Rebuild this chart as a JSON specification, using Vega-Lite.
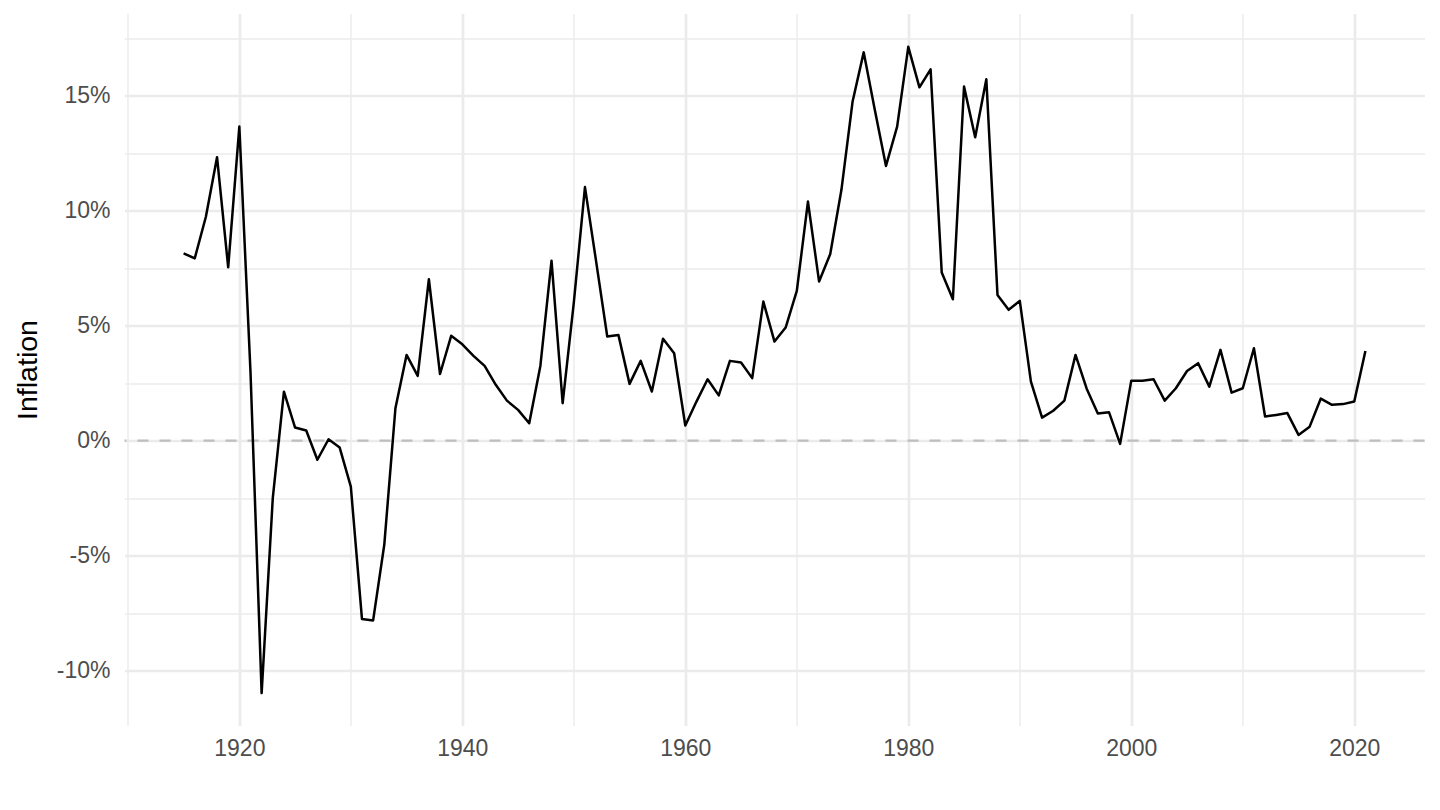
{
  "$schema": "https://vega.github.io/schema/vega-lite/v6.json",
  "width": 1300,
  "height": 712,
  "autosize": {"type": "none"},
  "padding": {"left": 124.5, "top": 13.5, "right": 15.5, "bottom": 84.5},
  "background": "white",
  "config": {"view": {"stroke": null}, "font": "Liberation Sans"},
  "datasets": {
    "zero": [{"inflation": 0}],
    "infl": [
      {"year": 1915, "inflation": 8.15}, {"year": 1916, "inflation": 7.93}, {"year": 1917, "inflation": 9.74},
      {"year": 1918, "inflation": 12.33}, {"year": 1919, "inflation": 7.54}, {"year": 1920, "inflation": 13.66},
      {"year": 1921, "inflation": 3.0}, {"year": 1922, "inflation": -10.98}, {"year": 1923, "inflation": -2.5},
      {"year": 1924, "inflation": 2.13}, {"year": 1925, "inflation": 0.57}, {"year": 1926, "inflation": 0.44},
      {"year": 1927, "inflation": -0.83}, {"year": 1928, "inflation": 0.06}, {"year": 1929, "inflation": -0.3},
      {"year": 1930, "inflation": -2.0}, {"year": 1931, "inflation": -7.76}, {"year": 1932, "inflation": -7.82},
      {"year": 1933, "inflation": -4.53}, {"year": 1934, "inflation": 1.41}, {"year": 1935, "inflation": 3.73},
      {"year": 1936, "inflation": 2.82}, {"year": 1937, "inflation": 7.02}, {"year": 1938, "inflation": 2.9},
      {"year": 1939, "inflation": 4.56}, {"year": 1940, "inflation": 4.19}, {"year": 1941, "inflation": 3.69},
      {"year": 1942, "inflation": 3.25}, {"year": 1943, "inflation": 2.43}, {"year": 1944, "inflation": 1.74},
      {"year": 1945, "inflation": 1.34}, {"year": 1946, "inflation": 0.76}, {"year": 1947, "inflation": 3.25},
      {"year": 1948, "inflation": 7.83}, {"year": 1949, "inflation": 1.63}, {"year": 1950, "inflation": 6.0},
      {"year": 1951, "inflation": 11.03}, {"year": 1952, "inflation": 7.8}, {"year": 1953, "inflation": 4.53},
      {"year": 1954, "inflation": 4.6}, {"year": 1955, "inflation": 2.47}, {"year": 1956, "inflation": 3.47},
      {"year": 1957, "inflation": 2.14}, {"year": 1958, "inflation": 4.43}, {"year": 1959, "inflation": 3.8},
      {"year": 1960, "inflation": 0.66}, {"year": 1961, "inflation": 1.7}, {"year": 1962, "inflation": 2.67},
      {"year": 1963, "inflation": 1.97}, {"year": 1964, "inflation": 3.47}, {"year": 1965, "inflation": 3.4},
      {"year": 1966, "inflation": 2.72}, {"year": 1967, "inflation": 6.05}, {"year": 1968, "inflation": 4.31},
      {"year": 1969, "inflation": 4.92}, {"year": 1970, "inflation": 6.51}, {"year": 1971, "inflation": 10.4},
      {"year": 1972, "inflation": 6.92}, {"year": 1973, "inflation": 8.12}, {"year": 1974, "inflation": 10.9},
      {"year": 1975, "inflation": 14.74}, {"year": 1976, "inflation": 16.89}, {"year": 1977, "inflation": 14.38},
      {"year": 1978, "inflation": 11.95}, {"year": 1979, "inflation": 13.66}, {"year": 1980, "inflation": 17.13},
      {"year": 1981, "inflation": 15.37}, {"year": 1982, "inflation": 16.15}, {"year": 1983, "inflation": 7.31},
      {"year": 1984, "inflation": 6.15}, {"year": 1985, "inflation": 15.4}, {"year": 1986, "inflation": 13.2},
      {"year": 1987, "inflation": 15.72}, {"year": 1988, "inflation": 6.34}, {"year": 1989, "inflation": 5.69},
      {"year": 1990, "inflation": 6.08}, {"year": 1991, "inflation": 2.57}, {"year": 1992, "inflation": 1.0},
      {"year": 1993, "inflation": 1.3}, {"year": 1994, "inflation": 1.74}, {"year": 1995, "inflation": 3.73},
      {"year": 1996, "inflation": 2.26}, {"year": 1997, "inflation": 1.18}, {"year": 1998, "inflation": 1.24},
      {"year": 1999, "inflation": -0.14}, {"year": 2000, "inflation": 2.61}, {"year": 2001, "inflation": 2.61},
      {"year": 2002, "inflation": 2.67}, {"year": 2003, "inflation": 1.74}, {"year": 2004, "inflation": 2.28},
      {"year": 2005, "inflation": 3.03}, {"year": 2006, "inflation": 3.37}, {"year": 2007, "inflation": 2.35},
      {"year": 2008, "inflation": 3.95}, {"year": 2009, "inflation": 2.09}, {"year": 2010, "inflation": 2.28},
      {"year": 2011, "inflation": 4.02}, {"year": 2012, "inflation": 1.05}, {"year": 2013, "inflation": 1.12},
      {"year": 2014, "inflation": 1.2}, {"year": 2015, "inflation": 0.25}, {"year": 2016, "inflation": 0.61},
      {"year": 2017, "inflation": 1.83}, {"year": 2018, "inflation": 1.56}, {"year": 2019, "inflation": 1.59},
      {"year": 2020, "inflation": 1.7}, {"year": 2021, "inflation": 3.9}
    ]
  },
  "layer": [
    {
      "data": {"name": "zero"},
      "mark": {"type": "rule", "color": "#BEBEBE", "strokeWidth": 2.2, "strokeDash": [11, 11]},
      "encoding": {
        "y": {"field": "inflation", "type": "quantitative", "scale": {"domain": [-12.39, 18.58], "nice": false, "zero": false}}
      }
    },
    {
      "data": {"name": "infl"},
      "mark": {"type": "line", "color": "#000000", "strokeWidth": 2.5, "strokeJoin": "round", "strokeCap": "butt"},
      "encoding": {
        "x": {
          "field": "year", "type": "quantitative",
          "scale": {"domain": [1909.7, 2026.3], "nice": false, "zero": false},
          "axis": {
            "values": [1910, 1920, 1930, 1940, 1950, 1960, 1970, 1980, 1990, 2000, 2010, 2020],
            "format": "d",
            "labelExpr": "datum.value % 20 === 0 ? datum.label : ''",
            "grid": true, "gridColor": "#EBEBEB",
            "gridWidth": {"condition": {"test": "datum.value % 20 === 0", "value": 2.7}, "value": 1.4},
            "domain": false, "ticks": false, "tickSize": 0,
            "labelFont": "Liberation Sans", "labelFontSize": 23, "labelColor": "#4D4D4D",
            "labelPadding": 12, "labelFlush": false, "labelOverlap": false,
            "title": null
          }
        },
        "y": {
          "field": "inflation", "type": "quantitative",
          "scale": {"domain": [-12.39, 18.58], "nice": false, "zero": false},
          "axis": {
            "values": [-10, -7.5, -5, -2.5, 0, 2.5, 5, 7.5, 10, 12.5, 15, 17.5],
            "labelExpr": "datum.value % 5 === 0 ? datum.value + '%' : ''",
            "grid": true, "gridColor": "#EBEBEB",
            "gridWidth": {"condition": {"test": "datum.value % 5 === 0", "value": 2.7}, "value": 1.4},
            "domain": false, "ticks": false, "tickSize": 0,
            "labelFont": "Liberation Sans", "labelFontSize": 23, "labelColor": "#4D4D4D",
            "labelPadding": 14.5, "labelFlush": false, "labelOverlap": false,
            "title": "Inflation",
            "titleFont": "Liberation Sans", "titleFontSize": 28.5, "titleFontWeight": "normal", "titleColor": "#000000",
            "titleAngle": -90, "titleBaseline": "alphabetic", "titleAlign": "center",
            "titleX": -88.5, "titleY": 356
          }
        }
      }
    }
  ]
}
